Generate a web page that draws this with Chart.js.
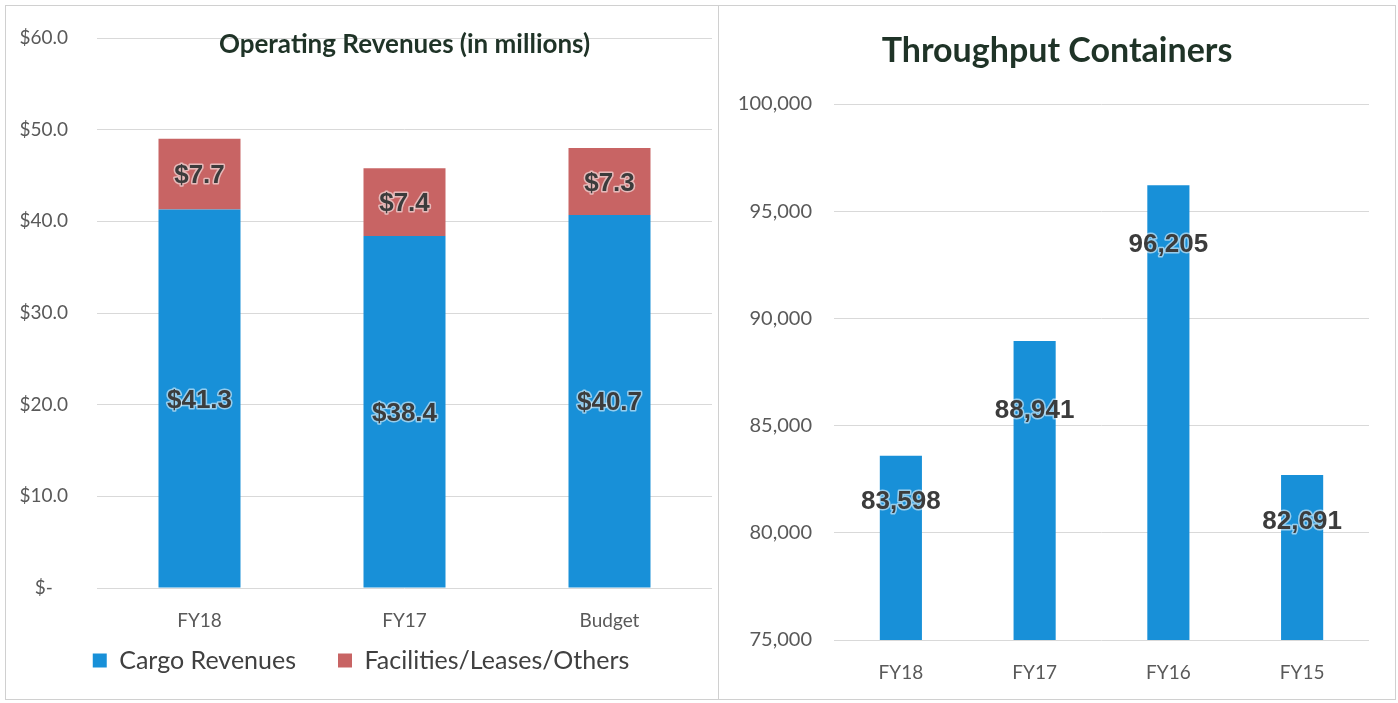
<!DOCTYPE html>
<html>
<head>
<meta charset="utf-8">
<script src="https://cdn.jsdelivr.net/npm/chart.js@4.4.1/dist/chart.umd.min.js"></script>
<style>
  html, body { margin: 0; padding: 0; background: #fff; }
  .panel { position: absolute; border: 1px solid #d0d0d0; box-sizing: border-box; }
  #leftPanel { left: 5px; top: 5px; width: 714px; height: 695px; }
  #rightPanel { left: 718px; top: 5px; width: 678px; height: 695px; }
  canvas { position: absolute; }
</style>
</head>
<body>
<div class="panel" id="leftPanel"><canvas id="revChart"></canvas></div>
<div class="panel" id="rightPanel"><canvas id="tpChart"></canvas></div>
<script>
// Operating revenues (in millions)
const revCategories = ['FY18', 'FY17', 'Budget'];
const cargoRevenues = [41.3, 38.4, 40.7];
const facilityRevenues = [7.7, 7.4, 7.3];

// Throughput containers
const tpCategories = ['FY18', 'FY17', 'FY16', 'FY15'];
const tpContainers = [83598, 88941, 96205, 82691];

const BLUE = '#1890d8';
const RED = '#c86464';
const AXIS_FONT = 'Lato, "Open Sans", sans-serif';
const LABEL_FONT = '"Liberation Sans", Arial, sans-serif';

// title drawn on top of the plot area (like the excel chart)
const overlayTitle = {
    id: 'overlayTitle',
    afterDraw(chart, args, opts) {
        const ctx = chart.ctx;
        const area = chart.chartArea;
        const x = opts.center === 'canvas' ? chart.width / 2 : (area.left + area.right) / 2;
        ctx.save();
        ctx.font = opts.font;
        ctx.fillStyle = opts.color;
        ctx.textAlign = 'center';
        ctx.textBaseline = 'middle';
        ctx.fillText(opts.text, x, opts.y);
        ctx.restore();
    }
};

// value labels with a soft light halo
const barLabels = {
    id: 'barLabels',
    afterDatasetsDraw(chart, args, opts) {
        const ctx = chart.ctx;
        ctx.save();
        ctx.font = opts.font;
        ctx.textAlign = 'center';
        ctx.textBaseline = 'middle';
        ctx.lineJoin = 'round';
        chart.data.datasets.forEach(function(ds, di) {
            const meta = chart.getDatasetMeta(di);
            meta.data.forEach(function(bar, i) {
                const txt = opts.format(ds.data[i]);
                let y;
                if (opts.drops) {
                    y = bar.y + opts.drops[i];
                } else {
                    y = (bar.y + bar.base) / 2 + 2;
                }
                ctx.strokeStyle = 'rgba(255,255,255,0.55)';
                ctx.lineWidth = 3;
                ctx.strokeText(txt, bar.x, y);
                ctx.fillStyle = '#3c3c3c';
                ctx.fillText(txt, bar.x, y);
            });
        });
        ctx.restore();
    }
};

const revCanvas = document.getElementById('revChart');
revCanvas.width = 712; revCanvas.height = 693;
new Chart(revCanvas, {
    type: 'bar',
    data: {
        labels: revCategories,
        datasets: [
            { label: 'Cargo Revenues', data: cargoRevenues, backgroundColor: BLUE, borderWidth: 0, barPercentage: 0.8, categoryPercentage: 0.5 },
            { label: 'Facilities/Leases/Others', data: facilityRevenues, backgroundColor: RED, borderWidth: 0, barPercentage: 0.8, categoryPercentage: 0.5 }
        ]
    },
    options: {
        responsive: false,
        animation: false,
        layout: { padding: { top: 32, left: 4, right: 6, bottom: 16 } },
        scales: {
            x: {
                stacked: true,
                grid: { display: false },
                border: { display: false },
                ticks: { color: '#595959', font: { family: AXIS_FONT, size: 19 }, padding: 13 },
                afterFit: function(scale) { scale.height = 50; }
            },
            y: {
                stacked: true,
                min: 0, max: 60,
                grid: { color: '#d9d9d9', drawTicks: false },
                border: { display: false },
                ticks: {
                    stepSize: 10,
                    color: '#595959',
                    font: { family: AXIS_FONT, size: 19 },
                    padding: 29,
                    crossAlign: 'center',
                    callback: function(v) { return v === 0 ? '$-' : '$' + v.toFixed(1); }
                },
                afterFit: function(scale) {
                    scale.width = 87;
                    scale.paddingTop = 12;
                    scale.paddingBottom = 12;
                }
            }
        },
        plugins: {
            legend: {
                position: 'bottom',
                labels: {
                    boxWidth: 14, boxHeight: 14, padding: 10,
                    color: '#404040',
                    font: { family: AXIS_FONT, size: 25 },
                    generateLabels: function(chart) {
                        const items = Chart.defaults.plugins.legend.labels.generateLabels(chart);
                        // wider gap between the two entries
                        items.forEach(function(it, i) {
                            if (i < items.length - 1) it.text = it.text + '     ';
                        });
                        return items;
                    }
                }
            },
            tooltip: { enabled: false },
            overlayTitle: {
                text: 'Operating Revenues (in millions)',
                y: 39,
                color: '#1f3327',
                font: 'bold 26px Lato, "Open Sans", sans-serif'
            },
            barLabels: {
                font: 'bold 26px ' + LABEL_FONT,
                format: function(v) { return '$' + v.toFixed(1); }
            }
        }
    },
    plugins: [overlayTitle, barLabels]
});

const tpCanvas = document.getElementById('tpChart');
tpCanvas.width = 676; tpCanvas.height = 693;
new Chart(tpCanvas, {
    type: 'bar',
    data: {
        labels: tpCategories,
        datasets: [
            { label: 'Throughput Containers', data: tpContainers, backgroundColor: BLUE, borderWidth: 0, barPercentage: 1, categoryPercentage: 0.315 }
        ]
    },
    options: {
        responsive: false,
        animation: false,
        layout: { padding: { top: 98, left: 4, right: 26, bottom: 11 } },
        scales: {
            x: {
                grid: { display: false },
                border: { display: false },
                ticks: { color: '#595959', font: { family: AXIS_FONT, size: 19 }, padding: 13 },
                afterFit: function(scale) { scale.height = 48; }
            },
            y: {
                min: 75000, max: 100000,
                grid: { color: '#d9d9d9', drawTicks: false },
                border: { display: false },
                ticks: {
                    stepSize: 5000,
                    color: '#595959',
                    font: { family: AXIS_FONT, size: 20 },
                    padding: 22,
                    callback: function(v) { return v.toLocaleString('en-US'); }
                },
                afterFit: function(scale) { scale.width = 111; }
            }
        },
        plugins: {
            legend: { display: false },
            tooltip: { enabled: false },
            overlayTitle: {
                text: 'Throughput Containers',
                center: 'canvas',
                y: 45,
                color: '#1f3327',
                font: 'bold 34px Lato, "Open Sans", sans-serif'
            },
            barLabels: {
                font: 'bold 26px ' + LABEL_FONT,
                drops: [46, 70, 59, 47],
                format: function(v) { return v.toLocaleString('en-US'); }
            }
        }
    },
    plugins: [overlayTitle, barLabels]
});
</script>
</body>
</html>
